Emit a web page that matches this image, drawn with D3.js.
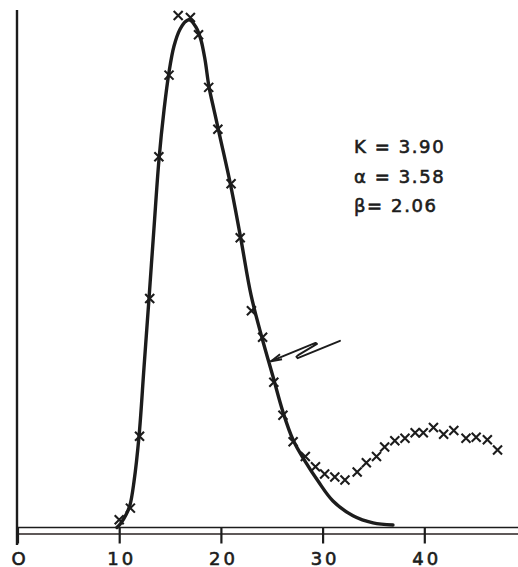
<!DOCTYPE html>
<html><head><meta charset="utf-8">
<script src="https://cdn.jsdelivr.net/npm/d3@7"></script>
<style>body{margin:0;background:#fff}svg{display:block}</style>
</head><body>
<svg id="c" width="518" height="567"></svg>
<script>
// Observed points (x markers)
const obsX = [10.0, 11.1, 12.0, 13.0, 13.9, 14.9, 15.8, 17.0, 17.8, 18.8, 19.7, 21.0, 21.9, 23.0, 24.1, 25.2, 26.1, 27.1, 28.3, 29.3, 30.2, 31.2, 32.2, 33.4, 34.3, 35.3, 36.1, 37.1, 38.1, 39.1, 39.9, 40.9, 41.9, 42.9, 44.1, 45.1, 46.2, 47.2];
const obsY = [1.5, 3.8, 17.9, 44.9, 72.7, 88.7, 100.4, 100.0, 96.6, 86.3, 78.1, 67.4, 56.8, 42.5, 37.3, 28.5, 22.0, 16.8, 13.9, 11.9, 10.5, 9.9, 9.3, 10.9, 12.7, 13.9, 15.8, 17.0, 17.5, 18.6, 18.6, 19.6, 18.3, 19.0, 17.5, 17.7, 17.2, 15.2];
// Fitted curve (K = 3.90, alpha = 3.58, beta = 2.06)
const fitX = [9.78, 10.18, 10.67, 11.06, 11.45, 11.95, 12.44, 12.93, 13.42, 13.91, 14.41, 14.9, 15.39, 15.98, 16.57, 16.96, 17.55, 18.04, 18.44, 18.83, 19.32, 19.91, 20.99, 21.98, 22.96, 24.04, 25.12, 26.11, 27.09, 28.27, 29.55, 31.02, 32.99, 34.96, 36.92];
const fitY = [0, 0.9, 2.5, 4.4, 8.9, 17.9, 31.4, 44.9, 58.7, 72.1, 81.9, 89.3, 94.4, 97.7, 99.3, 99.5, 98.1, 95.6, 91.7, 86.4, 81.9, 76.6, 66.8, 56.4, 45.6, 37.2, 29.6, 22.6, 17.2, 13.0, 9.1, 5.2, 2.3, 0.9, 0.5];
const xTicks = [0, 10, 20, 30, 40];
const xTickLabels = ["O", "10", "20", "30", "40"];
const params = ["K = 3.90", "\u03b1 = 3.58", "\u03b2= 2.06"];

const ink = "#1c1c1c";
const svg = d3.select("#c");
const x = d3.scaleLinear().domain([0, 40]).range([17.5, 424.3]);
const y = d3.scaleLinear().domain([0, 100]).range([527.5, 17.5]);

// vertical axis
svg.append("line").attr("x1", x(0)-0.5).attr("x2", x(0)-0.5).attr("y1", 10).attr("y2", 545)
  .attr("stroke", ink).attr("stroke-width", 2.4);
// double baseline
svg.append("line").attr("x1", x(0)).attr("x2", 518).attr("y1", y(0)).attr("y2", y(0))
  .attr("stroke", ink).attr("stroke-width", 1.6);
svg.append("line").attr("x1", x(0)).attr("x2", 518).attr("y1", y(0)+6.5).attr("y2", y(0)+6.5)
  .attr("stroke", "#2a2222").attr("stroke-width", 1.6);

const axis = d3.axisBottom(x).tickValues(xTicks).tickSize(16).tickFormat((d,i)=>xTickLabels[i]);
const ag = svg.append("g").attr("transform", `translate(0,${y(0)})`).call(axis);
ag.select(".domain").remove();
ag.selectAll(".tick line").attr("stroke", ink).attr("stroke-width", 2.2);
ag.selectAll(".tick text").attr("fill", ink).attr("stroke", ink).attr("stroke-width", 0.6)
  .attr("y", 37).attr("dy", 0).attr("dx", 2)
  .style("font-family", "'DejaVu Sans', sans-serif").style("font-size", "18px")
  .style("letter-spacing", "3px");

// fitted curve
const pts = fitX.map((v,i)=>[x(v), y(fitY[i])]);
svg.append("path").attr("d", d3.line().curve(d3.curveCatmullRom.alpha(0.5))(pts))
  .attr("fill", "none").attr("stroke", ink).attr("stroke-width", 3.4)
  .attr("stroke-linecap", "round").attr("stroke-linejoin", "round");

// markers
const s = 4.5;
svg.append("g").selectAll("path").data(obsX.map((v,i)=>[x(v), y(obsY[i])])).join("path")
  .attr("d", d => `M${d[0]-s},${d[1]-s}L${d[0]+s},${d[1]+s}M${d[0]-s},${d[1]+s}L${d[0]+s},${d[1]-s}`)
  .attr("stroke", ink).attr("stroke-width", 2.1).attr("fill", "none");

// parameter text
const tg = svg.append("g");
params.forEach((t,i)=>{
  tg.append("text").attr("x", 354).attr("y", 153 + i*29.5).text(t)
    .attr("fill", ink).attr("stroke", ink).attr("stroke-width", 0.6)
    .style("font-family", "'DejaVu Sans', sans-serif").style("font-size", "18px")
    .style("letter-spacing", "1.6px");
});

// arrow annotation (in data units)
const arrowPts = [[31.71, 36.6], [27.55, 33.2], [27.42, 33.5], [27.6, 33.8], [29.45, 36.0], [29.3, 36.2], [24.93, 32.6]];
svg.append("path").attr("d", d3.line()(arrowPts.map(p=>[x(p[0]), y(p[1])])))
  .attr("fill","none").attr("stroke", ink).attr("stroke-width", 1.9)
  .attr("stroke-linejoin","round").attr("stroke-linecap","round");
const tip = [x(24.93), y(32.6)];
svg.append("path").attr("d", `M${tip[0]+9},${tip[1]-7}L${tip[0]},${tip[1]}L${tip[0]+11},${tip[1]-2}`)
  .attr("fill","none").attr("stroke", ink).attr("stroke-width", 1.9).attr("stroke-linejoin","round");
</script>
</body></html>
